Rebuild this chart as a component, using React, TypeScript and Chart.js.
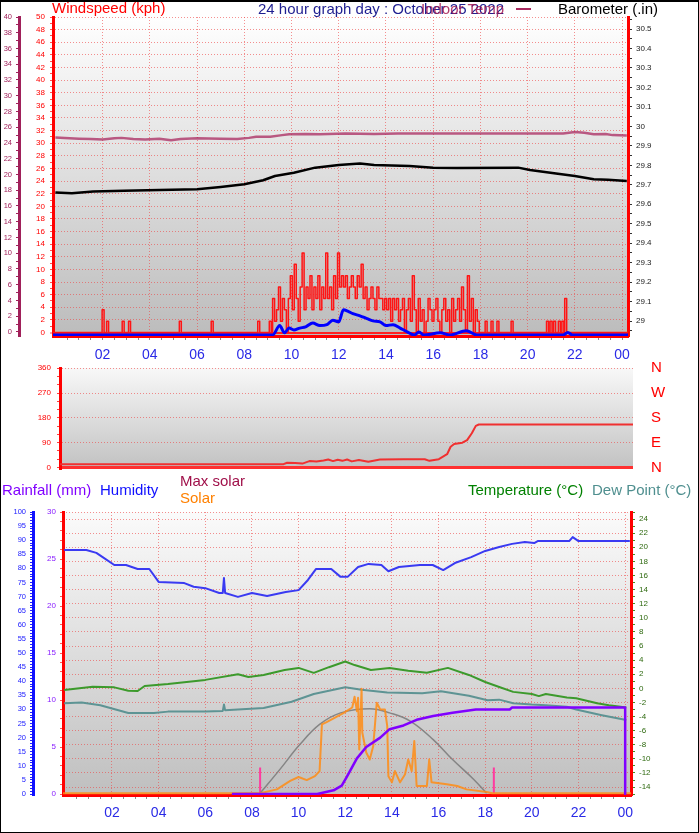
import React, { useEffect, useRef } from 'react';
import Chart from 'chart.js/auto';

const FONT = '"Liberation Sans", Arial, Helvetica, sans-serif';
Chart.defaults.font.family = FONT;

type Pair = [number, number];

// hours on the x axis
const labelHours = [2, 4, 6, 8, 10, 12, 14, 16, 18, 20, 22, 24];
const hourLabels = ['02', '04', '06', '08', '10', '12', '14', '16', '18', '20', '22', '00'];
const compassLabels = ['N', 'E', 'S', 'W', 'N'];
const compassTicks = [0, 90, 180, 270, 360];

// ---- top panel: wind, barometer, indoor temp ----
const indoorTemp: Pair[] = [
  [0, 24.7], [1.0, 24.55], [1.5, 24.5], [2.0, 24.45], [2.5, 24.6], [2.8, 24.65], [3.3, 24.5], [3.8, 24.45],
  [4.4, 24.55], [4.9, 24.35], [5.3, 24.5], [6.0, 24.6], [7.0, 24.55], [7.7, 24.5], [8.2, 24.65], [8.5, 24.8],
  [9.1, 24.8], [9.6, 25.0], [9.9, 25.1], [10.6, 25.15], [11.2, 25.1], [12.3, 25.2], [13.5, 25.15], [14.5, 25.2],
  [16.5, 25.2], [18.5, 25.2], [21.5, 25.2], [22.0, 25.4], [22.4, 25.3], [22.8, 25.1], [23.3, 25.15], [23.6, 25.0],
  [24.2, 24.95],
];
const barometer: Pair[] = [
  [0, 29.66], [0.7, 29.657], [1.6, 29.665], [2.9, 29.669], [4.4, 29.673], [6.0, 29.677], [7.0, 29.689],
  [8.0, 29.703], [8.8, 29.723], [9.3, 29.745], [10.1, 29.762], [11.0, 29.788], [12.0, 29.801], [12.9, 29.809],
  [13.5, 29.801], [15.0, 29.797], [16.0, 29.788], [17.0, 29.786], [19.6, 29.788], [20.1, 29.776], [21.2, 29.758],
  [22.0, 29.745], [22.8, 29.728], [23.4, 29.726], [24.2, 29.72],
];
const windAvg: Pair[] = [
  [-0.1, 0], [9.2, 0], [9.5, 1.5], [9.7, 0.35], [9.9, 1.1], [10.1, 0.8], [10.35, 1.1], [10.6, 1.3], [10.9, 1.9],
  [11.2, 1.5], [11.5, 1.65], [11.75, 2.35], [12.0, 2.1], [12.2, 4.0], [12.4, 3.75], [12.6, 3.4], [12.9, 3.05],
  [13.2, 2.6], [13.45, 2.25], [13.75, 2.1], [14.0, 1.5], [14.3, 1.65], [14.6, 1.1], [14.9, 0.5], [15.2, 0],
  [15.4, 0.5], [15.6, 0], [16.3, 0.35], [16.7, 0], [17.4, 0.7], [17.85, 0], [21.5, 0], [21.7, 0.4], [21.9, 0],
  [24.25, 0],
];
// single 5-minute gust samples outside the windy part of the day
const gustSpikes: Pair[] = [
  [1.98, 3.6], [2.17, 1.8], [2.83, 1.8], [3.1, 1.8], [5.25, 1.8], [6.6, 1.8], [8.57, 1.8], [9.06, 1.8],
  [18.2, 1.8], [18.45, 1.8], [18.7, 1.8], [19.3, 1.8], [20.8, 1.8], [20.95, 1.8], [21.1, 1.8], [21.3, 1.8],
  [21.45, 1.8], [21.57, 5.4],
];
const gustBurstStart = 9.2;
const GUST_STEP = 1 / 12;
const gustBurst = [
  5.4, 1.8, 3.6, 7.2, 1.8, 5.4, 3.6, 0, 5.4,
  9.0, 3.6, 10.8, 5.4, 1.8, 7.2, 12.6,
  3.6, 7.2, 5.4, 9.0, 3.6, 7.2,
  5.4, 9.0, 3.6, 7.2, 5.4, 12.6,
  5.4, 7.2, 3.6, 9.0, 5.4, 12.6,
  7.2, 9.0, 7.2, 9.0, 5.4, 7.2, 9.0, 7.2, 5.4, 9.0, 7.2, 10.8,
  5.4, 7.2, 3.6, 5.4, 7.2, 5.4, 3.6, 7.2, 5.4, 5.4, 3.6, 5.4,
  3.6, 5.4, 1.8, 5.4, 3.6, 5.4, 1.8, 3.6, 5.4, 0, 3.6, 5.4,
  1.8, 9.0, 3.6, 0, 5.4, 1.8, 3.6, 0, 1.8, 5.4, 3.6, 1.8,
  3.6, 5.4, 1.8, 0, 3.6, 5.4, 1.8, 3.6, 0, 5.4, 1.8, 3.6,
  5.4, 1.8, 7.2, 3.6, 0, 9.0, 1.8, 5.4, 0, 3.6, 1.8, 0,
];

// ---- middle panel: wind direction ----
const windDir: Pair[] = [
  [-0.1, 12], [9.4, 12], [9.55, 17], [9.9, 16], [10.2, 14], [10.5, 23], [10.8, 22], [11.1, 25], [11.3, 29],
  [11.5, 23], [11.7, 28], [11.9, 24], [12.1, 29], [12.3, 22], [12.6, 27], [13.0, 21], [13.5, 29], [14.5, 30],
  [15.4, 30], [15.6, 24], [16.0, 30], [16.35, 48], [16.5, 75], [16.65, 85], [17.0, 90], [17.2, 99],
  [17.4, 124], [17.57, 151], [17.7, 156], [24.25, 156],
];

// ---- bottom panel ----
const humidity: Pair[] = [
  [-0.05, 86.5], [0.9, 86.5], [1.33, 85.5], [1.6, 84], [2.1, 81.2], [2.6, 81.2], [3.1, 79.8], [3.6, 79.8],
  [4.0, 75.2], [5.1, 74.8], [5.5, 73.5], [6.0, 73], [6.6, 71.3], [6.75, 71.3], [6.8, 76.6], [6.85, 71.3],
  [7.4, 69.9], [8.0, 71.3], [8.65, 70.2], [9.45, 71.6], [10.0, 72.3], [10.4, 75.9], [10.75, 79.8], [11.4, 79.8],
  [11.8, 77], [12.1, 77], [12.55, 80.5], [13.0, 81.6], [13.55, 81.2], [13.85, 79], [14.3, 80.5], [15.2, 81.2],
  [15.75, 81.2], [16.2, 79.4], [16.7, 81.9], [17.4, 84], [18.0, 86.2], [18.6, 87.6], [19.15, 88.7],
  [19.7, 89.4], [20.1, 89.0], [20.25, 89.7], [21.6, 89.7], [21.75, 91.1], [22.0, 89.7], [24.2, 89.7],
];
const temperature: Pair[] = [
  [-0.05, -0.24], [1.17, 0.23], [2.1, 0.14], [2.7, -0.34], [3.1, -0.38], [3.4, 0.33], [4.4, 0.6], [6.0, 1.2],
  [7.4, 2.0], [7.85, 1.6], [8.5, 1.9], [9.4, 2.6], [10.0, 2.9], [10.65, 2.2], [11.3, 3.0], [12.0, 3.8],
  [12.4, 3.3], [13.1, 2.6], [13.9, 2.9], [14.7, 2.5], [15.5, 2.2], [16.4, 2.9], [17.3, 1.9], [18.0, 0.9],
  [18.6, 0.2], [19.2, -0.5], [20.0, -0.8], [20.3, -1.1], [20.6, -0.8], [21.5, -1.3], [21.9, -1.4],
  [22.8, -2.1], [23.3, -2.4], [24.05, -2.7],
];
const dewPoint: Pair[] = [
  [-0.05, -2.1], [0.7, -2.0], [1.5, -2.4], [2.7, -3.5], [3.8, -3.5], [4.4, -3.3], [6.0, -3.3], [6.75, -3.2],
  [6.8, -2.3], [6.85, -3.1], [8.5, -2.8], [9.7, -1.9], [10.65, -0.8], [12.0, 0.15], [12.7, -0.2], [13.8, -0.6],
  [15.3, -0.7], [16.1, -0.4], [17.3, -1.05], [18.1, -1.7], [18.6, -1.6], [19.2, -2.1], [20.0, -2.3],
  [20.6, -2.4], [21.5, -2.6], [21.9, -3.0], [23.0, -3.8], [24.05, -4.5],
];
const rainfall: Pair[] = [
  [7.14, 0], [10.8, 0], [11.5, 0.4], [11.85, 0.9], [12.06, 1.8], [12.5, 3.8], [12.9, 5.0], [13.5, 6.0],
  [13.9, 6.9], [14.5, 7.3], [15.06, 7.9], [15.77, 8.3], [16.6, 8.65], [17.6, 9.0], [19.05, 9.0], [19.15, 9.2],
  [24.0, 9.2], [24.0, 0],
];
const solar: Pair[] = [
  [-0.1, 0], [8.35, 0], [9.07, 14], [9.64, 44], [10.0, 58], [10.35, 47], [10.7, 61], [10.9, 79], [11.0, 245],
  [11.2, 253], [11.9, 284], [12.3, 305], [12.4, 343], [12.5, 292], [12.55, 340], [12.6, 156], [12.7, 372],
  [12.73, 216], [12.9, 145], [13.05, 120], [13.2, 168], [13.35, 322], [13.5, 298], [13.7, 298], [13.8, 239],
  [13.85, 61], [14.0, 39], [14.13, 79], [14.35, 39], [14.56, 67], [14.7, 120], [14.85, 79], [14.96, 186],
  [15.06, 26], [15.5, 26], [15.6, 120], [15.7, 39], [16.35, 32], [16.8, 26], [17.2, 14], [18.06, 5],
  [18.3, 0], [24.25, 0],
];
const maxSolar: Pair[] = [
  [8.35, 0], [9.2, 85], [10.06, 174], [10.9, 245], [11.8, 286], [13.05, 301], [13.9, 286], [14.8, 256],
  [15.77, 191], [16.6, 120], [17.5, 50], [18.06, 0],
];
const sunTimes = [8.35, 18.37];
const SUN_MARK = 92;

const X_MIN = -0.1;
const X_MAX = 24.25;
const gridRed = 'rgba(238,70,70,0.6)';

const pts = (a: Pair[]) => a.map(([x, y]) => ({ x, y }));
const range = (a: number, b: number, s: number) => {
  const out: number[] = [];
  for (let v = a; v <= b + s / 2; v += s) out.push(Math.round(v * 1000) / 1000);
  return out;
};

function gustPoints() {
  const all: Pair[] = [];
  gustSpikes.forEach(([h, v]) => { all.push([h, v], [h + GUST_STEP, 0]); });
  gustBurst.forEach((v, i) => all.push([gustBurstStart + i * GUST_STEP, v]));
  all.push([gustBurstStart + gustBurst.length * GUST_STEP, 0]);
  all.sort((a, b) => a[0] - b[0]);
  return pts([[-0.1, 0], ...all, [24.25, 0]]);
}

function sunPoints() {
  const out: { x: number; y: number | null }[] = [];
  sunTimes.forEach((h) => { out.push({ x: h, y: 0 }, { x: h, y: SUN_MARK }, { x: h + 0.01, y: null }); });
  return out;
}

const bgPlugin = (top: string, bottom: string) => ({
  id: 'bg',
  beforeDraw(chart: any) {
    const { ctx, chartArea: a } = chart;
    const g = ctx.createLinearGradient(0, a.top, 0, a.bottom);
    g.addColorStop(0, top);
    g.addColorStop(1, bottom);
    ctx.save();
    ctx.fillStyle = g;
    ctx.fillRect(a.left, a.top, a.right - a.left, a.bottom - a.top);
    ctx.restore();
  },
});

function xScale(height: number, padding: number, show = true) {
  return {
    type: 'linear',
    min: X_MIN,
    max: X_MAX,
    display: show,
    afterBuildTicks: (s: any) => { s.ticks = range(0.5, 24, 0.5).map((value) => ({ value })); },
    afterFit: (s: any) => { s.height = height; },
    ticks: {
      autoSkip: false, maxRotation: 0, minRotation: 0, padding, color: '#2a2ae6', font: { size: 14 },
      callback: (v: any) => { const i = labelHours.indexOf(Number(v)); return i >= 0 ? hourLabels[i] : ''; },
    },
    grid: {
      color: (c: any) => (c.tick && labelHours.includes(c.tick.value) ? gridRed : 'transparent'),
      tickColor: '#8a8a8a', tickLength: 4,
    },
    border: { color: '#ff0000', width: 3, dash: [1, 2] },
  };
}

function yScale(p: any) {
  return {
    type: 'linear',
    position: p.position,
    min: p.min,
    max: p.max,
    display: p.display ?? true,
    weight: p.weight ?? 0,
    afterBuildTicks: (s: any) => { s.ticks = p.ticks.map((value: number) => ({ value })); },
    afterFit: (s: any) => { s.width = p.width; s.paddingTop = 0; s.paddingBottom = 0; },
    ticks: {
      autoSkip: false, color: p.color, padding: p.padding, font: { size: p.fontSize ?? 8 },
      callback: (v: any) => p.label(Number(v)),
    },
    grid: {
      display: p.gridDisplay ?? true,
      drawOnChartArea: !!p.gridLine,
      color: (c: any) => (p.gridLine && c.tick ? p.gridLine(c.tick.value) : 'transparent'),
      lineWidth: (c: any) => (p.gridWidth && c.tick ? p.gridWidth(c.tick.value) : 1),
      drawTicks: p.drawTicks ?? true,
      tickColor: p.tickColor ?? p.color,
      tickLength: p.tickLength ?? 3,
      tickWidth: 1,
    },
    border: {
      display: (p.borderWidth ?? 3) > 0,
      color: p.borderColor ?? '#ff0000',
      width: p.borderWidth ?? 3,
      dash: (c: any) => (c.tick && p.solid && p.solid(c.tick.value) ? [] : [1, 2]),
    },
  };
}

const common = {
  animation: false,
  responsive: false,
  events: [],
  elements: { point: { radius: 0 }, line: { fill: false, borderJoinStyle: 'round' } },
  plugins: { legend: { display: false }, tooltip: { enabled: false } },
};

function topConfig(): any {
  return {
    type: 'line',
    data: {
      datasets: [
        { data: pts(windAvg), yAxisID: 'yAvg', borderColor: '#0000ff', borderWidth: 3, cubicInterpolationMode: 'monotone', tension: 0.4 },
        { data: gustPoints(), yAxisID: 'yWind', borderColor: '#ff1414', borderWidth: 1.5, stepped: 'before' },
        { data: pts(barometer), yAxisID: 'yBaro', borderColor: '#000000', borderWidth: 2.5 },
        { data: pts(indoorTemp), yAxisID: 'yIndoor', borderColor: 'rgba(170,40,95,0.75)', borderWidth: 2.5 },
      ],
    },
    options: {
      ...common,
      layout: { padding: { top: 17, left: 0, right: 0, bottom: 0 } },
      scales: {
        x: xScale(29, 7),
        yIndoor: yScale({
          position: 'left', weight: 1, min: -0.51, max: 40, ticks: range(0, 40, 1), width: 19,
          label: (v: number) => (v % 2 === 0 ? String(v) : ''), color: '#a0205a', borderColor: '#a0205a',
          padding: 4, fontSize: 7.5,
        }),
        yWind: yScale({
          position: 'left', min: -0.55, max: 50, ticks: range(0, 50, 1), width: 34,
          label: (v: number) => (v % 2 === 0 ? String(v) : ''), color: '#ff0000', tickColor: '#ff5050', padding: 5,
          gridLine: (v: number) => (v === 0 ? '#ff2020' : v % 2 === 0 ? gridRed : 'transparent'),
          gridWidth: (v: number) => (v === 0 ? 2 : 1), solid: (v: number) => v === 0,
        }),
        yAvg: { type: 'linear', display: false, min: -0.15, max: 50.4 },
        yBaro: yScale({
          position: 'right', min: 28.923, max: 30.562, ticks: range(28.95, 30.55, 0.05), width: 71,
          label: (v: number) => (Math.round(v * 100) % 10 === 0 ? String(Math.round(v * 10) / 10) : ''),
          color: '#202020', tickColor: '#303030', padding: 4, tickLength: 4,
        }),
      },
    },
    plugins: [bgPlugin('#ffffff', '#bcbcbc')],
  };
}

function middleConfig(): any {
  return {
    type: 'line',
    data: {
      datasets: [
        { data: pts(windDir), yAxisID: 'yDir', borderColor: '#f03030', borderWidth: 2 },
      ],
    },
    options: {
      ...common,
      layout: { padding: { top: 8, left: 0, right: 0, bottom: 7 } },
      scales: {
        x: xScale(0, 0, false),
        yDir: yScale({
          position: 'left', min: -2, max: 361, ticks: range(0, 360, 30), width: 60,
          label: (v: number) => (v % 90 === 0 ? String(v) : ''), color: '#ff0000', tickColor: '#ff4040', padding: 6,
          gridLine: (v: number) => (v === 0 ? '#ff3030' : v % 90 === 0 ? gridRed : 'transparent'),
          gridWidth: (v: number) => (v === 0 ? 3 : 1), solid: (v: number) => v === 0,
        }),
        yCompass: yScale({
          position: 'right', min: -2, max: 361, ticks: compassTicks, width: 66,
          label: (v: number) => compassLabels[compassTicks.indexOf(v)] ?? '', color: '#ff0000',
          padding: 18, fontSize: 15, borderWidth: 0, drawTicks: false, gridDisplay: false,
        }),
      },
    },
    plugins: [bgPlugin('#f8f8f8', '#c2c2c2')],
  };
}

function bottomConfig(): any {
  return {
    type: 'line',
    data: {
      datasets: [
        { data: pts(rainfall), yAxisID: 'yRain', borderColor: '#8000ff', borderWidth: 2.5 },
        { data: pts(solar), yAxisID: 'ySolar', borderColor: 'rgba(255,140,20,0.85)', borderWidth: 2 },
        { data: pts(maxSolar), yAxisID: 'ySolar', borderColor: 'rgba(125,125,125,0.9)', borderWidth: 1.5, tension: 0.4 },
        { data: pts(temperature), yAxisID: 'yTemp', borderColor: '#3c9a2c', borderWidth: 2 },
        { data: pts(dewPoint), yAxisID: 'yTemp', borderColor: '#5e9494', borderWidth: 2 },
        { data: pts(humidity), yAxisID: 'yHum', borderColor: '#3a3af2', borderWidth: 2 },
        { data: sunPoints(), yAxisID: 'ySolar', borderColor: '#ff3aa0', borderWidth: 2 },
      ],
    },
    options: {
      ...common,
      layout: { padding: { top: 37, left: 0, right: 0, bottom: 0 } },
      scales: {
        x: xScale(38, 6),
        yHum: yScale({
          position: 'left', weight: 1, min: -0.35, max: 100, ticks: range(0, 100, 1), width: 33,
          label: (v: number) => (v % 5 === 0 ? String(v) : ''), color: '#2020ff', borderColor: '#1010ff',
          padding: 4, fontSize: 7.5,
        }),
        yRain: yScale({
          position: 'left', min: -0.1, max: 30, ticks: range(0, 30, 1), width: 30,
          label: (v: number) => (v % 5 === 0 ? String(v) : ''), color: '#8a20ff', tickColor: '#ff5a5a', padding: 4,
        }),
        ySolar: { type: 'linear', display: false, min: -6, max: 1000 },
        yTemp: yScale({
          position: 'right', min: -15.12, max: 25, ticks: range(-15, 25, 1), width: 68,
          label: (v: number) => (v % 2 === 0 && v < 25 ? String(v) : ''), color: '#2f6a10', tickColor: '#3f8f20',
          padding: 4, tickLength: 4,
          gridLine: (v: number) => (v % 2 === 0 || v === 25 ? gridRed : 'transparent'),
        }),
      },
    },
    plugins: [bgPlugin('#fbfbfb', '#bfbfbf')],
  };
}

function Panel({ top, height, config }: { top: number; height: number; config: () => any }) {
  const canvasRef = useRef<HTMLCanvasElement>(null);
  useEffect(() => {
    if (!canvasRef.current) return;
    const chart = new Chart(canvasRef.current, config());
    return () => chart.destroy();
  }, []);
  return (
    <canvas ref={canvasRef} width={699} height={height}
      style={{ position: 'absolute', left: 0, top, width: 699, height }} />
  );
}

function Label({ text, left, top, color }: { text: string; left: number; top: number; color: string }) {
  return (
    <div style={{ position: 'absolute', left, top, color, fontFamily: FONT, fontSize: 15, lineHeight: '15px', whiteSpace: 'nowrap' }}>
      {text}
    </div>
  );
}

export default function App() {
  return (
    <div style={{ position: 'absolute', left: 0, top: 0, width: 699, height: 833, background: '#ffffff', overflow: 'hidden' }}>
      <Panel top={0} height={365} config={topConfig} />
      <Panel top={360} height={115} config={middleConfig} />
      <Panel top={475} height={358} config={bottomConfig} />

      <Label text="Windspeed (kph)" left={52} top={0} color="#ff0000" />
      <Label text="24 hour graph day : October 25 2022" left={258} top={1} color="#1e1e90" />
      <Label text="Indoor Temp" left={421} top={1} color="rgba(165,25,80,0.85)" />
      <div style={{ position: 'absolute', left: 516, top: 8, width: 15, height: 2, background: '#a8285e' }} />
      <Label text="Barometer (.in)" left={558} top={1} color="#000000" />

      <Label text="Rainfall (mm)" left={2} top={482} color="#8000ff" />
      <Label text="Humidity" left={100} top={482} color="#1010ff" />
      <Label text="Max solar" left={180} top={473} color="#a0104a" />
      <Label text="Solar" left={180} top={490} color="#ff8000" />
      <Label text="Temperature (°C)" left={468} top={482} color="#008000" />
      <Label text="Dew Point (°C)" left={592} top={482} color="#4f8f8f" />

      <div style={{ position: 'absolute', left: 0, top: 0, width: 699, height: 833, boxSizing: 'border-box',
        borderTop: '2px solid #000', borderLeft: '1px solid #000', borderRight: '1px solid #000', borderBottom: '1px solid #000',
        pointerEvents: 'none' }} />
    </div>
  );
}
